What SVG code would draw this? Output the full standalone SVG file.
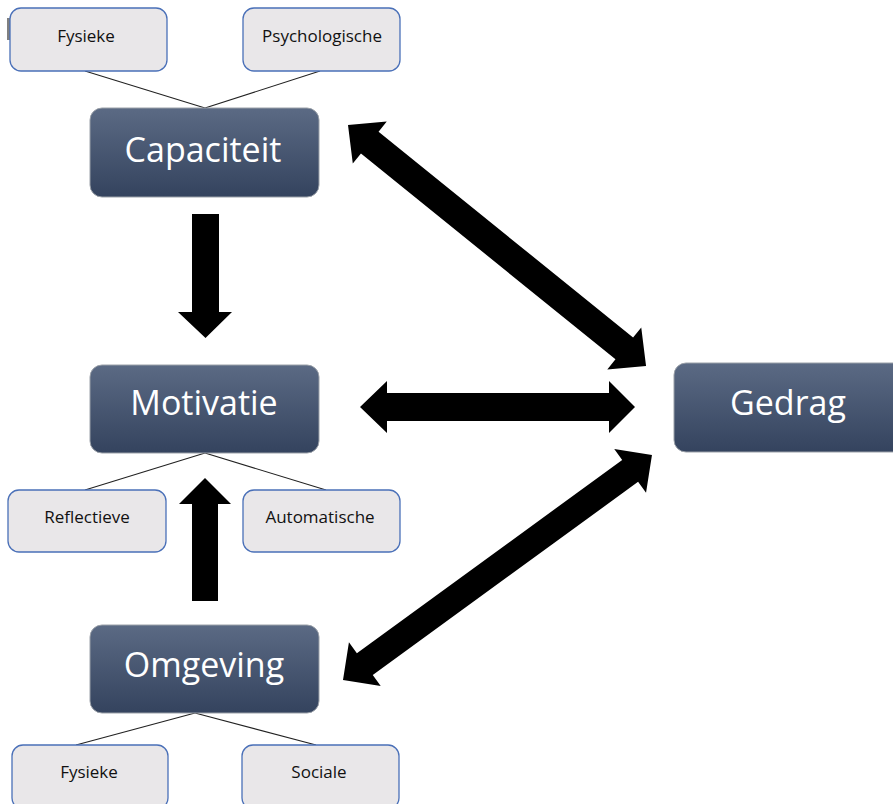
<svg xmlns="http://www.w3.org/2000/svg" width="893" height="804" viewBox="0 0 893 804">
<defs>
<linearGradient id="g" x1="0" y1="0" x2="0" y2="1">
<stop offset="0" stop-color="#5b6a84"/>
<stop offset="1" stop-color="#34435e"/>
</linearGradient>
<style>
.main rect{fill:url(#g);stroke:#9aa0a8;stroke-width:1}
.main text{font-family:"Open Sans","Liberation Sans",sans-serif;font-size:34px;fill:#ffffff;text-anchor:middle}
.sub rect{fill:#e9e7e9;stroke:#4a70b8;stroke-width:1.3}
.sub text{font-family:"Open Sans","Liberation Sans",sans-serif;font-size:17px;fill:#111;text-anchor:middle}
.ln line{stroke:#222;stroke-width:1.1}
.arr polygon{fill:#000}
</style>
</defs>
<rect width="893" height="804" fill="#ffffff"/>
<rect x="7" y="18" width="3" height="22" fill="#808080"/>
<g class="ln" id="connectors-lines">
<line x1="85" y1="71" x2="205" y2="108"/>
<line x1="320" y1="71" x2="205" y2="108"/>
<line x1="205" y1="453" x2="85" y2="490"/>
<line x1="205" y1="453" x2="326" y2="490"/>
<line x1="195" y1="713" x2="76" y2="745"/>
<line x1="195" y1="713" x2="316" y2="745"/>
</g>
<g class="arr" id="connectors">
<polygon points="192,214 219,214 219,312 232,312 205.5,338 178,312 192,312"/>
<polygon points="192,601 218,601 218,504 231,504 205,478 179,504 192,504"/>
<polygon points="360,407 387,381 387,393 609,393 609,381 635,407 609,433 609,421 387,421 387,433"/>
<polygon transform="translate(348,125) rotate(38.96)" points="0,0 28,-27 28,-14 355.3,-14 355.3,-27 383.3,0 355.3,27 355.3,14 28,14 28,27"/>
<polygon transform="translate(343,680) rotate(-36.06)" points="0,0 27,-27 27,-13.5 355.2,-13.5 355.2,-27 382.2,0 355.2,27 355.2,13.5 27,13.5 27,27"/>
</g>
<g class="sub" id="cap-fysieke"><rect x="10" y="8" width="157" height="63" rx="11"/><text x="86" y="42">Fysieke</text></g>
<g class="sub" id="cap-psych"><rect x="243" y="8" width="157" height="63" rx="11"/><text x="322" y="42">Psychologische</text></g>
<g class="main" id="capaciteit"><rect x="90" y="108" width="229" height="89" rx="12"/><text x="203" y="162">Capaciteit</text></g>
<g class="main" id="motivatie"><rect x="90" y="365" width="229" height="88" rx="12"/><text x="204" y="415">Motivatie</text></g>
<g class="sub" id="mot-reflectieve"><rect x="8" y="490" width="158" height="62" rx="11"/><text x="87" y="523">Reflectieve</text></g>
<g class="sub" id="mot-automatische"><rect x="243" y="490" width="157" height="62" rx="11"/><text x="320" y="523">Automatische</text></g>
<g class="main" id="omgeving"><rect x="90" y="625" width="229" height="88" rx="12"/><text x="204" y="677">Omgeving</text></g>
<g class="sub" id="omg-fysieke"><rect x="12" y="745" width="156" height="64" rx="11"/><text x="89" y="778">Fysieke</text></g>
<g class="sub" id="omg-sociale"><rect x="242" y="745" width="157" height="64" rx="11"/><text x="319" y="778">Sociale</text></g>
<g class="main" id="gedrag"><rect x="674" y="363" width="232" height="89" rx="12"/><text x="788" y="415">Gedrag</text></g>
</svg>
